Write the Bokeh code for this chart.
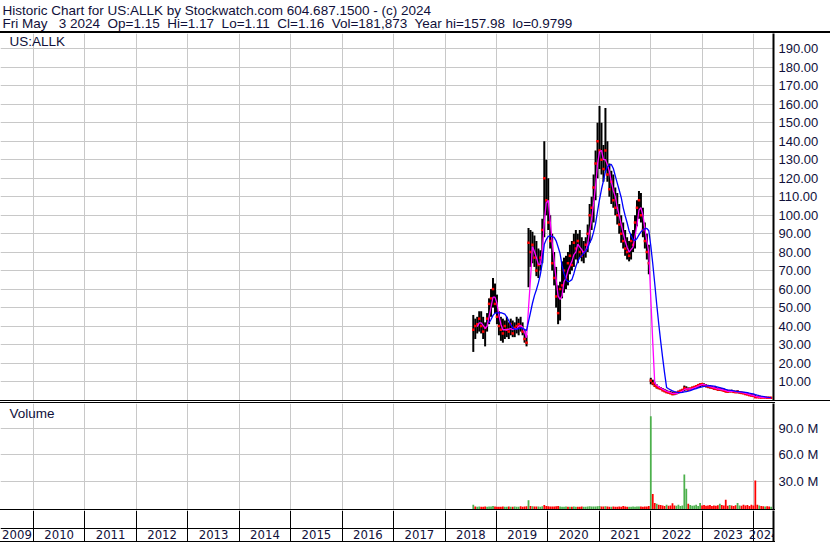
import pandas as pd
from datetime import datetime
from bokeh.plotting import figure
from bokeh.models import (Range1d, FixedTicker, Label, LabelSet, Div, PrintfTickFormatter,
                          ColumnDataSource)
from bokeh.layouts import column
from bokeh.embed import file_html
from bokeh.resources import INLINE
from bokeh.core.properties import value

# ---------------- data ----------------
NB = "\u00a0"
HEADER_1 = "Historic Chart for US:ALLK by Stockwatch.com 604.687.1500 - (c) 2024"
HEADER_2 = ("Fri May" + NB + NB + " 3 2024" + NB + " Op=1.15" + NB + " Hi=1.17" + NB + " Lo=1.11"
            + NB + " Cl=1.16" + NB + " Vol=181,873" + NB + " Year hi=157.98" + NB + " lo=0.9799")
SYMBOL = "US:ALLK"
VOLUME_TITLE = "Volume"

first_bar = "2018-07-20"   # bi-weekly bars
bar_days = 14

high = [46, 44, 45, 48, 48, 45, 42, 47, 55, 60,
        66, 63, 57, 48, 45, 44, 43, 45, 42, 44,
        43, 42, 45, 44, 45, 42, 38, 35, 93, 92,
        91, 89, 86, 82, 81, 98, 140, 130, 120, 100,
        90, 80, 72, 62, 64, 75, 77, 78, 80, 84,
        86, 90, 92, 90, 92, 88, 86, 88, 95, 106,
        110, 122, 135, 150, 159, 150, 138, 158, 140, 128,
        124, 122, 115, 112, 106, 100, 96, 92, 88, 86,
        90, 92, 100, 108, 113, 112, 104, 96, 90, 84,
        12, 11, 9.5, 8.5, 7.5, 7, 6.5, 6, 5.5, 5,
        4.8, 4.5, 4.2, 4.4, 5, 5.6, 6, 7.8, 7.4, 6.8,
        6.6, 7.2, 7.6, 8, 8.6, 9, 9.2, 9, 8.6, 8.2,
        8, 7.6, 7.2, 7, 6.6, 6.8, 6.4, 6.2, 5.8, 5.4,
        5.4, 5.6, 5.2, 5, 5.2, 4.8, 4.6, 4.4, 4, 3.8,
        3.4, 3.2, 3, 2.8, 1.9, 1.8, 1.7, 1.6, 1.6, 1.5,
        1.4, 1.3]
low = [26, 33, 36, 37, 36, 33, 29, 37, 41, 45,
       50, 47, 41, 35, 32, 31, 33, 34, 33, 35,
       34, 34, 36, 35, 37, 35, 31, 29, 61, 72,
       74, 72, 67, 66, 70, 74, 88, 100, 92, 82,
       70, 62, 50, 41, 43, 55, 58, 60, 62, 68,
       70, 72, 76, 74, 77, 75, 74, 77, 80, 85,
       92, 96, 108, 120, 125, 122, 118, 124, 118, 110,
       106, 104, 100, 95, 90, 85, 82, 78, 76, 75,
       76, 80, 82, 94, 98, 96, 88, 82, 76, 68,
       8.5, 8, 7, 6.2, 5.8, 5.5, 4.8, 4.2, 3.8, 3.5,
       3.2, 2.6, 2.6, 3, 3.4, 3.8, 4.2, 4.8, 5.2, 5,
       5.2, 5.6, 6, 6.2, 6.6, 7, 7.4, 7.2, 6.8, 6.4,
       6.2, 6, 5.6, 5.4, 5, 5, 4.8, 4.6, 4.2, 4,
       4.1, 4.2, 4, 3.8, 3.6, 3.6, 3.4, 3.2, 2.8, 2.6,
       2.2, 2, 1.8, 1.2, 1.2, 1.2, 1.1, 1.1, 1.1, 1.0,
       1.0, 1.1]
close = [38, 40, 41, 44, 40, 37, 39, 44, 52, 55,
         60, 52, 45, 40, 38, 36, 40, 38, 37, 41,
         36, 39, 40, 41, 40, 37, 33, 31, 85, 80,
         84, 77, 70, 73, 77, 92, 120, 108, 96, 86,
         74, 66, 56, 47, 60, 62, 70, 66, 74, 78,
         73, 85, 82, 86, 80, 78, 80, 84, 90, 100,
         104, 115, 128, 140, 135, 130, 125, 135, 122, 114,
         118, 108, 104, 100, 95, 90, 86, 82, 80, 78,
         86, 84, 96, 104, 108, 100, 92, 86, 80, 74,
         10.5, 9, 7.8, 7, 6.5, 6, 5.2, 4.8, 4.2, 4,
         3.6, 3.2, 3.4, 3.8, 4.4, 4.8, 5.4, 6.5, 6, 5.6,
         6.2, 6.6, 7, 7.4, 8, 8.4, 8.6, 8, 7.6, 7.2,
         7, 6.6, 6.2, 6, 5.6, 5.8, 5.4, 5, 4.6, 4.5,
         4.8, 4.7, 4.4, 4.2, 4.6, 4, 3.8, 3.6, 3.2, 3,
         2.6, 2.4, 2.2, 1.5, 1.5, 1.4, 1.3, 1.4, 1.3, 1.2,
         1.2, 1.16]
volume_m = [3.0, 1.0, 0.6, 0.8, 0.5, 0.7, 0.9, 0.5, 1.0, 0.8,
            1.4, 1.0, 0.7, 0.6, 0.5, 0.8, 0.5, 0.6, 0.9, 0.7,
            0.5, 1.0, 0.6, 0.7, 1.2, 0.6, 0.8, 1.1, 8.0, 1.6,
            1.2, 1.0, 0.8, 0.9, 0.7, 1.2, 2.5, 1.5, 1.1, 1.0,
            0.8, 1.0, 1.3, 1.5, 1.0, 0.7, 0.6, 0.8, 0.5, 0.7,
            0.6, 0.8, 0.5, 0.7, 0.6, 0.9, 0.5, 0.6, 0.8, 1.2,
            0.9, 1.0, 0.8, 1.2, 1.4, 1.0, 0.8, 1.1, 0.9, 0.7,
            0.6, 0.8, 0.7, 0.6, 0.9, 0.7, 1.5, 0.8, 0.6, 0.7,
            0.6, 0.8, 0.7, 1.0, 0.9, 0.8, 0.7, 0.9, 1.0, 1.4,
            104.0, 15.2, 5.0, 4.0, 3.0, 2.5, 2.0, 1.5, 2.8, 1.8,
            2.0, 4.5, 2.0, 1.8, 3.0, 1.6, 2.2, 37.5, 21.3, 4.0,
            2.5, 1.8, 2.2, 3.0, 1.6, 4.8, 2.0, 2.5, 1.8, 2.2,
            2.6, 1.5, 2.0, 1.8, 2.4, 4.0, 2.5, 2.0, 8.7, 1.8,
            2.5, 2.0, 1.6, 2.4, 5.0, 2.2, 1.8, 3.0, 2.0, 2.5,
            1.6, 3.0, 2.0, 30.6, 3.0, 2.0, 1.5, 1.2, 1.0, 1.2,
            0.8, 0.6]
volume_dir = ("grggrrrggg" "grrrrrggrg" "rgggrrrrgr" "grrgggrrrr" "rrrrggggrg"
              "rggrrrgggg" "gggggrrgrr" "grrrrrrrrg" "gggggrrrrr" "grrgrrrrgr"
              "rrrggggggr" "ggggggrrrr" "rrrrrgrrrr" "grrrggrrrr" "rrrrrgrrgr" "rg")

price_ticks = [10, 20, 30, 40, 50, 60, 70, 80, 90, 100,
               110, 120, 130, 140, 150, 160, 170, 180, 190]
volume_ticks = [30, 60, 90]
year_labels = ["2009", "2010", "2011", "2012", "2013", "2014", "2015", "2016",
               "2017", "2018", "2019", "2020", "2021", "2022", "2023", "2024"]
range_start = datetime(2009, 5, 12)
range_end = datetime(2024, 5, 20)

# ---------------- derived ----------------
dates = pd.date_range(first_bar, periods=len(close), freq=f"{bar_days}D")
cl = pd.Series(close, dtype=float)
ma_fast = cl.rolling(3).mean()
ma_slow = cl.rolling(9).mean()

src = ColumnDataSource(dict(date=dates, high=high, low=low, close=close,
                            ma_fast=ma_fast, ma_slow=ma_slow, vol=volume_m,
                            vcol=["#4cb04c" if c == "g" else "#ff0000" for c in volume_dir]))

EPOCH = datetime(1970, 1, 1)
def ms(d):
    return (d - EPOCH).total_seconds() * 1000.0

year_starts = [datetime(int(y), 1, 1) for y in year_labels[1:]]
year_ms = [ms(d) for d in year_starts]
bounds = [range_start] + year_starts + [range_end]
label_x = [ms(bounds[i] + (bounds[i + 1] - bounds[i]) / 2) for i in range(len(year_labels))]

# ---------------- style ----------------
W = 830
RIGHT = 57
FRAME_W = W - RIGHT
FONT = "Liberation Sans"
NARROW = "Liberation Sans Narrow, DejaVu Sans Condensed, sans-serif"
TXT = "#10103a"
GRID = "#c8c8c8"
x_range = Range1d(start=range_start, end=range_end)


def base_fig(height, y_range):
    f = figure(width=W, height=height, x_range=x_range, y_range=y_range,
               x_axis_type="datetime", x_axis_location=None, y_axis_location="right",
               toolbar_location=None, output_backend="svg",
               min_border_left=0, min_border_right=RIGHT,
               min_border_top=0, min_border_bottom=0,
               outline_line_color=None, background_fill_color="white",
               border_fill_color="white")
    f.xgrid.ticker = FixedTicker(ticks=year_ms)
    f.xgrid.grid_line_color = GRID
    f.ygrid.grid_line_color = GRID
    ax = f.yaxis[0]
    ax.axis_line_width = 2
    ax.axis_line_color = "black"
    ax.major_tick_line_color = None
    ax.minor_tick_line_color = None
    ax.major_tick_out = 0
    ax.major_tick_in = 0
    ax.major_label_standoff = 5
    ax.major_label_text_font = FONT
    ax.major_label_text_font_size = "13px"
    ax.major_label_text_color = TXT
    return f


def hline(width, h, color="black"):
    return Div(text="", width=width, height=h, margin=0,
               styles={"background-color": color})


# header
hdr = figure(width=W, height=31, x_range=Range1d(0, 1), y_range=Range1d(0, 1),
             x_axis_location=None, y_axis_location=None, toolbar_location=None,
             output_backend="svg", min_border_left=0, min_border_right=0,
             min_border_top=0, min_border_bottom=0, outline_line_color=None,
             background_fill_color="white", border_fill_color="white")
hdr.grid.visible = False
for txt, yy in ((HEADER_1, 21), (HEADER_2, 8)):
    hdr.add_layout(Label(x=2, y=yy, x_units="screen", y_units="screen", text=txt,
                         text_font=FONT, text_font_size="13.5px", text_color=TXT,
                         text_baseline="alphabetic"))

# price panel
p = base_fig(367, Range1d(-0.28, 198.27))
p.ygrid.ticker = FixedTicker(ticks=price_ticks)
p.yaxis.ticker = FixedTicker(ticks=price_ticks)
p.yaxis.formatter = PrintfTickFormatter(format="%.2f")
p.segment(x0="date", y0="low", x1="date", y1="high", source=src,
          line_color="black", line_width=2)
p.scatter(x="date", y="close", source=src, marker="square", size=2.5,
          color="#ff0000", line_width=0)
p.line(x="date", y="ma_fast", source=src, line_color="#ff00ff", line_width=1.3)
p.line(x="date", y="ma_slow", source=src, line_color="#0000ff", line_width=1.3)
p.add_layout(Label(x=9, y=359, x_units="screen", y_units="screen", text=SYMBOL,
                   text_font=FONT, text_font_size="13.5px", text_color=TXT,
                   text_baseline="middle"))

# volume panel
v_floor = -2.5
v = base_fig(106, Range1d(v_floor, 118.4))
v.ygrid.ticker = FixedTicker(ticks=volume_ticks)
v.yaxis.ticker = FixedTicker(ticks=volume_ticks)
v.yaxis.formatter = PrintfTickFormatter(format="%.1f M")
v.vbar(x="date", width=bar_days * 0.9 * 86400000, bottom=v_floor, top="vol",
       source=src, fill_color="vcol", line_color=None)
v.add_layout(Label(x=9, y=96, x_units="screen", y_units="screen", text=VOLUME_TITLE,
                   text_font=FONT, text_font_size="13.5px", text_color=TXT,
                   text_baseline="middle"))

# year strip
yf = base_fig(31, Range1d(0, 31))
yf.yaxis.ticker = FixedTicker(ticks=[])
yf.yaxis.major_label_text_font_size = "0px"
yf.xgrid.grid_line_color = "black"
yf.ygrid.ticker = FixedTicker(ticks=[13.5])
yf.ygrid.grid_line_color = "black"
ysrc = ColumnDataSource(dict(x=label_x, y=[7] * len(label_x), text=year_labels))
yf.add_layout(LabelSet(x="x", y="y", text="text", source=ysrc, x_units="data",
                       y_units="screen", text_align="center", text_baseline="middle",
                       text_font=value(NARROW), text_font_size=value("13px"),
                       text_color=value(TXT)))

layout = column(hdr, hline(W, 2), p, hline(W, 1), hline(W, 1, "white"),
                hline(FRAME_W + 2, 1), v, hline(FRAME_W + 2, 1), yf,
                hline(FRAME_W + 2, 1), spacing=0)

open("out.html", "w").write(file_html(layout, INLINE))
